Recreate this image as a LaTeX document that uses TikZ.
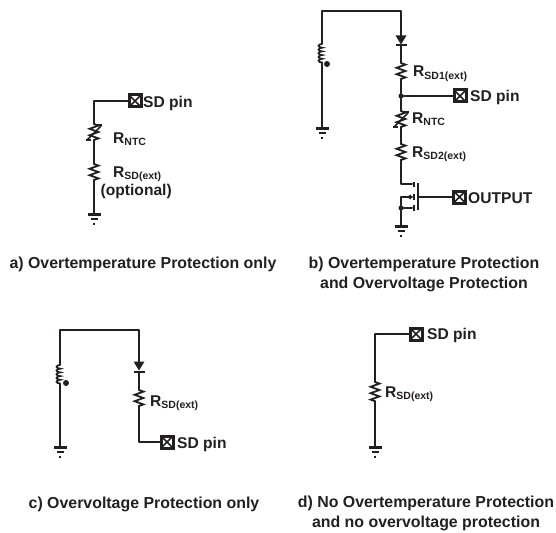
\documentclass[tikz,border=0pt]{standalone}
\usepackage{fontspec}
\setmainfont{Liberation Sans}
\usetikzlibrary{calc}
\usetikzlibrary{positioning}
\usetikzlibrary{decorations.pathmorphing}

\definecolor{inkblack}{HTML}{231F20}
\newcommand{\rsub}[1]{R\raisebox{-2.5pt}{\fontsize{10.5}{10.5}\selectfont #1}}

\tikzset{
  wire/.style={line width=2pt, line cap=round, line join=round},
  reszig/.style={line width=1.8pt, decorate, decoration={zigzag, amplitude=4.4pt, segment length=6.4pt}},
  coilbump/.style={line width=1.8pt, decorate, decoration={bumps, mirror, amplitude=3.4pt, segment length=7.4pt}},
  pinbox/.style={draw, fill=white, line width=3pt, minimum size=12pt, inner sep=0pt,
    path picture={\draw[line width=1.6pt] (path picture bounding box.north west) -- (path picture bounding box.south east)
      (path picture bounding box.north east) -- (path picture bounding box.south west);}},
  pinlabel/.style={font=\fontsize{15.6}{18}\selectfont\bfseries, inner sep=0pt, anchor=base west},
  complabel/.style={font=\fontsize{15.6}{18}\selectfont\bfseries, inner sep=0pt, anchor=base west},
  caption/.style={font=\fontsize{15.9}{20}\selectfont\bfseries, inner sep=0pt, align=center},
  dotmark/.style={circle, fill=inkblack, inner sep=0pt, minimum size=#1},
  groundsym/.pic={
    \draw[line width=3pt] (-6.5,0) -- (6.5,0);
    \draw[line width=2pt] (-3.5,5) -- (3.5,5);
    \draw[line width=1.6pt] (-1,10) -- (1,10);
  },
  diodesym/.pic={
    \fill (-5.5,-4.5) -- (5.5,-4.5) -- (0,4.5) -- cycle;
    \draw[line width=2pt] (-5.5,5.5) -- (5.5,5.5);
  },
  ntcslash/.pic={
    \draw[line width=1.6pt] (-7,7) -- (7,-7);
    \draw[line width=1.6pt] (-8.5,7) -- (-3,7);
    \draw[line width=1.6pt] (8,-8) -- (2,-8);
  }
}

\begin{document}
\begin{tikzpicture}[x=1pt,y=-1pt,color=inkblack]
\useasboundingbox (0,0) rectangle (556,532);

% a) overtemperature only
\node[pinbox] (pinA) at (135,101) {};
\node[pinlabel] (pinAtext) at (143,107) {SD pin};
\coordinate (cornerA) at (94,101);
\coordinate (ntcAtop) at (94,124);
\coordinate (ntcAbot) at (94,142);
\coordinate (resAtop) at (94,164);
\coordinate (resAbot) at (94,182);
\coordinate (gndA) at (94,214);
\draw[wire] (pinA) -- (cornerA) -- (ntcAtop);
\draw[reszig] (ntcAtop) -- (ntcAbot);
\draw[wire] (ntcAbot) -- (resAtop);
\draw[reszig] (resAtop) -- (resAbot);
\draw[wire] (resAbot) -- (gndA);
\pic at (94,133) {ntcslash};
\pic at (gndA) {groundsym};
\node[complabel] (ntcAtext) at (113,143) {\rsub{NTC}};
\node[complabel] (resAtext) at (113,177) {\rsub{SD(ext)}};
\node[complabel] (optAtext) at (100.5,195) {(optional)};
\node[caption] (capA) at (143,264) {a) Overtemperature Protection only};

% b) overtemperature and overvoltage
\coordinate (topBleft) at (322,11);
\coordinate (topBright) at (401,11);
\coordinate (coilBtop) at (322,44);
\coordinate (coilBbot) at (322,66);
\coordinate (gndBleft) at (322,128);
\draw[wire] (coilBtop) -- (topBleft) -- (topBright) -- (401,36);
\draw[coilbump] (coilBtop) -- (coilBbot);
\draw[wire] (coilBbot) -- (gndBleft);
\node[dotmark=6pt] (dotBcoil) at (327,64) {};
\pic at (gndBleft) {groundsym};
\pic at (401,40) {diodesym};
\coordinate (resB1top) at (401,63);
\coordinate (resB1bot) at (401,82);
\node[dotmark=5pt] (jointB) at (401,96) {};
\coordinate (ntcBtop) at (401,111);
\coordinate (ntcBbot) at (401,129);
\coordinate (resB2top) at (401,144);
\coordinate (resB2bot) at (401,163);
\coordinate (drainB) at (412,184);
\coordinate (sourceB) at (412,197);
\coordinate (bulkB) at (412,208);
\node[dotmark=5pt] (jointBlow) at (401,208) {};
\coordinate (gndBright) at (401,226);
\draw[wire] (401,46) -- (resB1top);
\draw[reszig] (resB1top) -- (resB1bot);
\draw[wire] (resB1bot) -- (jointB) -- (ntcBtop);
\draw[reszig] (ntcBtop) -- (ntcBbot);
\draw[wire] (ntcBbot) -- (resB2top);
\draw[reszig] (resB2top) -- (resB2bot);
\draw[wire] (resB2bot) -- (401,184) -- (drainB);
\draw[wire] (sourceB) -- (401,197) -- (jointBlow) -- (gndBright);
\draw[wire] (jointBlow) -- (bulkB);
\pic at (401,120) {ntcslash};
\pic at (gndBright) {groundsym};
% mosfet bars
\draw[line width=2pt] (413.5,182) -- (413.5,187);
\draw[line width=2pt] (413.5,194) -- (413.5,200);
\draw[line width=2pt] (413.5,205) -- (413.5,211);
\draw[line width=2pt] (418,183) -- (418,210);
\fill (406,197) -- (411,194.5) -- (411,199.5) -- cycle;
\node[pinbox] (pinBsd) at (460,96) {};
\node[pinbox] (pinBout) at (459.5,197) {};
\draw[wire] (jointB) -- (pinBsd);
\draw[wire] (418,197) -- (pinBout);
\node[pinlabel] (pinBsdtext) at (470,102) {SD pin};
\node[pinlabel] (pinBouttext) at (468,203) {OUTPUT};
\node[complabel] (resB1text) at (413,77) {\rsub{SD1(ext)}};
\node[complabel] (ntcBtext) at (412,123) {\rsub{NTC}};
\node[complabel] (resB2text) at (412,157) {\rsub{SD2(ext)}};
\node[caption] (capB) at (424,274) {b) Overtemperature Protection\\and Overvoltage Protection};

% c) overvoltage only
\coordinate (topCleft) at (60,330);
\coordinate (topCright) at (139,330);
\coordinate (coilCtop) at (60,365);
\coordinate (coilCbot) at (60,387);
\coordinate (gndCleft) at (60,447);
\coordinate (resCtop) at (139,390);
\coordinate (resCbot) at (139,409);
\coordinate (cornerC) at (139,442);
\draw[wire] (coilCtop) -- (topCleft) -- (topCright) -- (139,362);
\draw[coilbump] (coilCtop) -- (coilCbot);
\draw[wire] (coilCbot) -- (gndCleft);
\node[dotmark=6pt] (dotCcoil) at (66,383) {};
\pic at (gndCleft) {groundsym};
\pic at (139,366) {diodesym};
\draw[wire] (139,372) -- (resCtop);
\draw[reszig] (resCtop) -- (resCbot);
\node[pinbox] (pinC) at (167,442) {};
\draw[wire] (resCbot) -- (cornerC) -- (pinC);
\node[pinlabel] (pinCtext) at (177,448) {SD pin};
\node[complabel] (resCtext) at (150,406) {\rsub{SD(ext)}};
\node[caption] (capC) at (144,504) {c) Overvoltage Protection only};

% d) no protection
\node[pinbox] (pinD) at (416,334) {};
\node[pinlabel] (pinDtext) at (427,339.5) {SD pin};
\coordinate (cornerD) at (375,334);
\coordinate (resDtop) at (375,382);
\coordinate (resDbot) at (375,402);
\coordinate (gndD) at (375,447);
\draw[wire] (pinD) -- (cornerD) -- (resDtop);
\draw[reszig] (resDtop) -- (resDbot);
\draw[wire] (resDbot) -- (gndD);
\pic at (gndD) {groundsym};
\node[complabel] (resDtext) at (385,397) {\rsub{SD(ext)}};
\node[caption] (capD) at (426,513) {d) No Overtemperature Protection\\and no overvoltage protection};
\end{tikzpicture}
\end{document}
